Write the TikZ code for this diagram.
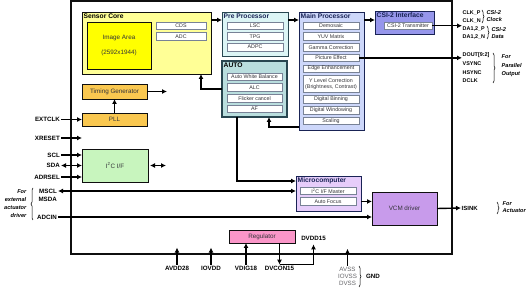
\documentclass[tikz,border=0pt]{standalone}
\usepackage{fontspec}
\setmainfont{Liberation Sans}
\usetikzlibrary{positioning,arrows.meta,decorations.pathreplacing}
\definecolor{ChipLine}{RGB}{15,15,15}
\definecolor{TextGray}{RGB}{50,50,55}
\definecolor{ItemLine}{RGB}{120,130,150}
\definecolor{CoreFill}{RGB}{255,255,150}
\definecolor{ImageFill}{RGB}{255,255,0}
\definecolor{TimingFill}{RGB}{250,200,80}
\definecolor{I2CFill}{RGB}{200,245,190}
\definecolor{PreFill}{RGB}{220,245,245}
\definecolor{PreLine}{RGB}{40,70,80}
\definecolor{AutoFill}{RGB}{185,222,222}
\definecolor{MainFill}{RGB}{205,215,250}
\definecolor{NavyLine}{RGB}{25,35,85}
\definecolor{CsiFill}{RGB}{150,150,235}
\definecolor{MicroFill}{RGB}{230,205,250}
\definecolor{VcmFill}{RGB}{200,155,235}
\definecolor{RegFill}{RGB}{250,150,200}
\tikzset{
  chipbox/.style={
    draw=ChipLine,
    fill=white,
    line width=1.6pt,
    anchor=north west,
    inner sep=0pt,
    outer sep=0pt
  },
  blockbox/.style={
    draw=ChipLine,
    line width=0.9pt,
    anchor=north west,
    inner sep=0pt,
    outer sep=0pt,
    align=center,
    text=TextGray,
    font=\fontsize{6.3}{7.5}\selectfont
  },
  itembox/.style={
    draw=ItemLine,
    fill=white,
    line width=0.5pt,
    minimum width=56,
    minimum height=7.5,
    inner sep=0pt,
    outer sep=0pt,
    align=center,
    text=TextGray,
    font=\fontsize{5.3}{6}\selectfont
  },
  blocktitle/.style={anchor=north west, inner sep=0.5pt, xshift=1pt, yshift=-1.2pt, font=\bfseries\fontsize{6.7}{7}\selectfont},
  pinlabel/.style={inner sep=1pt, font=\bfseries\fontsize{6.2}{7}\selectfont},
  outlabel/.style={inner sep=0.5pt, anchor=west, font=\bfseries\fontsize{5.4}{6}\selectfont},
  sidenote/.style={inner sep=0.5pt, font=\bfseries\itshape\fontsize{5.6}{8}\selectfont},
  curly/.style={decorate, decoration={brace, amplitude=2pt}, line width=0.5pt},
  arrow/.style={-{Latex[length=5pt,width=5pt]},line width=1.4pt,draw=black},
  biarrow/.style={{Latex[length=5pt,width=5pt]}-{Latex[length=5pt,width=5pt]},line width=1.4pt,draw=black}
}
\begin{document}
\begin{tikzpicture}[x=1pt,y=-1pt,node distance=3.2pt]
    \useasboundingbox (0,0) rectangle (530,288);
    \node[chipbox, minimum width=381, minimum height=253] (chip) at (71,1) {};

    \node[blockbox, fill=CoreFill, minimum width=129, minimum height=62] (core) at (82,12) {};
    \node[blocktitle] (coret) at (core.north west) {Sensor Core};
    \node[blockbox, fill=ImageFill, minimum width=64, minimum height=47] (img) at (87,22) {Image Area\\[7.5pt](2592x1944)};
    \node[itembox, anchor=north west, minimum width=50] (cds) at (156,22) {CDS};
    \node[itembox, minimum width=50, below=of cds] (adc) {ADC};

    \node[blockbox, fill=TimingFill, minimum width=65, minimum height=15] (tg) at (82,84) {Timing Generator};
    \node[blockbox, fill=TimingFill, minimum width=65, minimum height=13] (pll) at (82,113) {PLL};
    \node[blockbox, fill=I2CFill, minimum width=66, minimum height=33] (i2c) at (82,149) {I\textsuperscript{2}C I/F};

    \node[blockbox, draw=PreLine, fill=PreFill, minimum width=66, minimum height=44] (pre) at (222,12) {};
    \node[blocktitle, text=NavyLine] (pret) at (pre.north west) {Pre Processor};
    \node[itembox, anchor=north west] (lsc) at (227,22) {LSC};
    \node[itembox, below=of lsc] (tpg) {TPG};
    \node[itembox, below=of tpg] (adpc) {ADPC};

    \node[blockbox, draw=PreLine, line width=1.4pt, fill=AutoFill, minimum width=65, minimum height=56] (autob) at (222,61) {};
    \node[blocktitle] (autot) at (autob.north west) {AUTO};
    \node[itembox, anchor=north west, minimum width=55] (awb) at (227,73) {Auto White Balance};
    \node[itembox, minimum width=55, below=of awb] (alc) {ALC};
    \node[itembox, minimum width=55, below=of alc] (flick) {Flicker cancel};
    \node[itembox, minimum width=55, below=of flick] (af) {AF};

    \node[blockbox, draw=NavyLine, fill=MainFill, minimum width=65, minimum height=118] (main) at (299,12) {};
    \node[blocktitle, text=NavyLine] (maint) at (main.north west) {Main Processor};
    \node[itembox, anchor=north west] (demo) at (303,22) {Demosaic};
    \node[itembox, below=of demo] (yuv) {YUV Matrix};
    \node[itembox, below=of yuv] (gamma) {Gamma Correction};
    \node[itembox, below=of gamma] (pe) {Picture Effect};
    \node[itembox, below=of pe] (edge) {Edge Enhancement};
    \node[itembox, minimum height=17, below=of edge] (ylevel) {Y Level Correction\\(Brightness, Contrast)};
    \node[itembox, below=of ylevel] (binning) {Digital Binning};
    \node[itembox, below=of binning] (window) {Digital Windowing};
    \node[itembox, below=of window] (scaling) {Scaling};

    \node[blockbox, draw=NavyLine, fill=CsiFill, minimum width=59, minimum height=23] (csi) at (375,11) {};
    \node[blocktitle, text=NavyLine] (csit) at (csi.north west) {CSI-2 Interface};
    \node[itembox, anchor=north west, minimum width=48] (tx) at (384,22) {CSI-2 Transmitter};

    \node[blockbox, draw=NavyLine, fill=MicroFill, minimum width=65, minimum height=35] (micro) at (296,176) {};
    \node[blocktitle, text=NavyLine] (microt) at (micro.north west) {Microcomputer};
    \node[itembox, anchor=north west] (mi2c) at (300,187) {I\textsuperscript{2}C I/F Master};
    \node[itembox, below=of mi2c] (mfocus) {Auto Focus};

    \node[blockbox, fill=VcmFill, minimum width=65, minimum height=33] (vcm) at (372,192) {VCM driver};
    \node[blockbox, fill=RegFill, minimum width=66, minimum height=13] (reg) at (229,230) {Regulator};

    \draw[arrow] ([yshift=-8pt]core.north east) -- ([yshift=-8pt]pre.north west);
    \draw[arrow] ([yshift=-8pt]pre.north east) -- ([yshift=-8pt]main.north west);
    \draw[arrow] ([yshift=-8pt]main.north east) -- ([yshift=-9pt]csi.north west);
    \draw[arrow] (autob.west) -| ([xshift=-10pt]core.south east);
    \draw[arrow] ([yshift=3pt]main.south west) -| ([xshift=-18pt]autob.south east);
    \draw[arrow] ([xshift=15pt]autob.south west) |- ([yshift=-5pt]micro.north west);
    \draw[arrow] (pll) -- (tg);
    \coordinate (tgout) at ([xshift=20pt]tg.east);
    \draw[arrow] (tg.east) -- (tgout);
    \draw[biarrow] ([xshift=2pt]i2c.east) -- ([xshift=18pt]i2c.east);
    \draw[arrow] (mfocus.east -| micro.east) -- (mfocus.east -| vcm.west);

    \node[pinlabel, anchor=east] (extclk) at (61,119.5) {EXTCLK};
    \node[pinlabel, anchor=east] (xreset) at (61,138) {XRESET};
    \node[pinlabel, anchor=east] (scl) at (61,155) {SCL};
    \node[pinlabel, anchor=east] (sda) at (61,165.5) {SDA};
    \node[pinlabel, anchor=east] (adrsel) at (61,177) {ADRSEL};
    \node[pinlabel, anchor=east] (mscl) at (58,191) {MSCL};
    \node[pinlabel, anchor=east] (msda) at (58,199) {MSDA};
    \node[pinlabel, anchor=east] (adcin) at (58,217) {ADCIN};
    \coordinate (xresetin) at (82,138);
    \draw[arrow] (extclk) -- (pll);
    \draw[arrow] (xreset) -- (xresetin);
    \draw[arrow] (scl.east) -- (scl.east -| i2c.west);
    \draw[biarrow] (sda.east) -- (sda.east -| i2c.west);
    \draw[arrow] (adrsel.east) -- (adrsel.east -| i2c.west);
    \draw[biarrow] (mscl.east) -- (mscl.east -| micro.west);
    \draw[arrow] (adcin.east) -- (adcin.east -| vcm.west);
    \node[sidenote, anchor=east, align=right] (extnote) at (27,204) {For\\external\\actuator\\driver};
    \draw[curly] (33,220) -- (33,188);

    \node[outlabel] (clkp) at (462,12.5) {CLK\_P};
    \node[outlabel] (clkn) at (462,20.5) {CLK\_N};
    \node[outlabel] (dap) at (462,29) {DA1,2\_P};
    \node[outlabel] (dan) at (462,37) {DA1,2\_N};
    \node[outlabel] (dout) at (462,55.5) {DOUT[9:2]};
    \node[outlabel] (vsync) at (462,64) {VSYNC};
    \node[outlabel] (hsync) at (462,72.3) {HSYNC};
    \node[outlabel] (dclk) at (462,80.7) {DCLK};
    \draw[arrow] (tx.east) -- (tx.east -| clkn.west);
    \draw[arrow] (pe.east) -- (pe.east -| dout.west);
    \draw[curly] (482,10) -- (482,23);
    \node[sidenote, anchor=west, align=left] (clknote) at (486,16.5) {CSI-2\\[-1pt]Clock};
    \draw[curly] (487,26) -- (487,39);
    \node[sidenote, anchor=west, align=left] (datanote) at (491,33) {CSI-2\\[-1pt]Data};
    \draw[curly] (493,53) -- (493,83);
    \node[sidenote, anchor=west, align=left] (parnote) at (501,66) {For\\[0.5pt]Parallel\\[0.5pt]Output};

    \node[outlabel, font=\bfseries\fontsize{6}{7}\selectfont] (isink) at (461,208) {ISINK};
    \draw[arrow] (vcm.east) -- (isink.west);
    \draw[curly] (497,202) -- (497,214);
    \node[sidenote, anchor=west, align=left] (actnote) at (502,207.5) {For\\[-1pt]Actuator};

    \node[pinlabel] (avdd) at (177,268) {AVDD28};
    \node[pinlabel] (iovdd) at (211,268) {IOVDD};
    \node[pinlabel] (vdig) at (246,268) {VDIG18};
    \node[pinlabel] (dvcon) at (279.5,268) {DVCON15};
    \node[pinlabel] (dvdd) at (313.5,238) {DVDD15};
    \node[pinlabel, font=\fontsize{6.2}{7.3}\selectfont, text=TextGray!75, align=center] (gndpins) at (347.5,276.5) {AVSS\\IOVSS\\DVSS};
    \node[pinlabel] (gnd) at (373,276.5) {GND};
    \draw[curly] (359,266) -- (359,287);
    \coordinate[above=17pt of avdd] (avddin);
    \coordinate[above=17pt of iovdd] (iovddin);
    \coordinate[above=17pt of gndpins] (gndin);
    \draw[arrow] (avdd) -- (avddin);
    \draw[arrow] (iovdd) -- (iovddin);
    \draw[arrow] (gndpins) -- (gndin);
    \draw[arrow] (vdig) -- (vdig |- reg.south);
    \draw[arrow] (reg.south -| dvcon.north) -- (dvcon.north);
    \draw[arrow] (dvcon.north) -| ([yshift=-3pt]dvdd.south);
\end{tikzpicture}
\end{document}
